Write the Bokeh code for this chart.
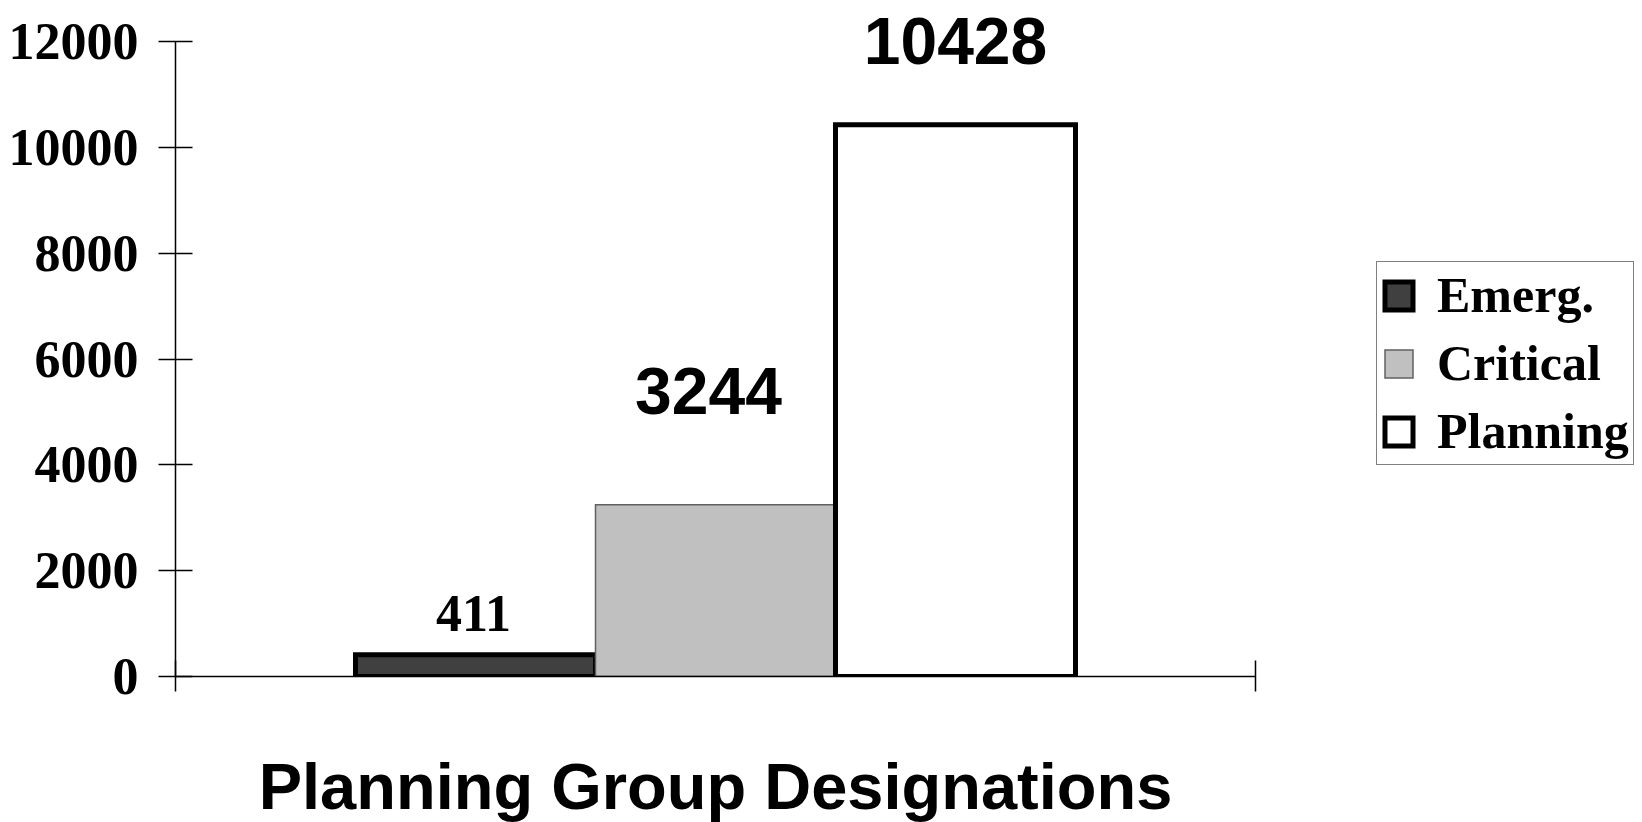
from bokeh.plotting import figure
from bokeh.models import FixedTicker, Range1d, Legend, LegendItem
from bokeh.core.properties import value
from bokeh.embed import file_html
from bokeh.resources import INLINE

# ---- data ----
categories = ["Emerg.", "Critical", "Planning"]
values = [411, 3244, 10428]
value_labels = ["411", "3244", "10428"]
y_ticks = [0, 2000, 4000, 6000, 8000, 10000, 12000]
x_title = "Planning Group Designations"

# ---- styles ----
fills = ["#404040", "#c0c0c0", "#ffffff"]
lines = ["#000000", "#606060", "#000000"]
line_widths = [5, 1.5, 5]
label_fonts = ["Liberation Serif", "Liberation Sans", "Liberation Sans"]
label_sizes = ["52px", "66px", "66px"]
label_dy = [-41, -114, -84]
label_dx = [-2, -7, 0]

# ---- layout (pixels) ----
W, H = 1642, 822
left = 175          # y axis position
top_axis = 41       # pixel of top tick
bottom_axis = 676   # pixel of zero line
right_axis = 1255   # pixel of right end of x axis
x_max = 4.5
y_max = max(y_ticks)
fw = right_axis - left
fh = bottom_axis
y_end = y_max * fh / (bottom_axis - top_axis)

p = figure(
    output_backend="svg", toolbar_location=None,
    frame_width=fw, frame_height=fh,
    min_border_left=left, min_border_right=W - right_axis,
    min_border_top=0, min_border_bottom=H - fh,
    x_range=Range1d(0, x_max), y_range=Range1d(0, y_end),
)
p.outline_line_color = None
p.xgrid.visible = False
p.ygrid.visible = False
p.background_fill_color = "white"
p.border_fill_color = "white"

items = []
for i, (name, v) in enumerate(zip(categories, values)):
    r = p.vbar(x=[1.25 + i], top=[v], bottom=0, width=1.0,
               fill_color=fills[i], line_color=lines[i], line_width=line_widths[i],
               line_join="miter")
    items.append(LegendItem(label=name, renderers=[r]))
    p.text(x=[1.25 + i], y=[v], text=[value_labels[i]],
           text_font=value(label_fonts[i]), text_font_size=value(label_sizes[i]),
           text_font_style="bold", text_align="center", text_baseline="middle",
           x_offset=label_dx[i], y_offset=label_dy[i], text_color="black")

# y axis
ya = p.yaxis[0]
ya.ticker = FixedTicker(ticks=y_ticks)
ya.bounds = (0, y_max)
ya.minor_tick_line_color = None
ya.major_tick_in = 17
ya.major_tick_out = 17
ya.major_tick_line_width = 1.5
ya.axis_line_width = 1.5
ya.major_label_standoff = 20
ya.major_label_text_font = "Liberation Serif"
ya.major_label_text_font_style = "bold"
ya.major_label_text_font_size = "52px"
ya.major_label_text_color = "black"

# x axis: only the two end ticks (as unlabeled minor ticks)
xa = p.xaxis[0]
xa.ticker = FixedTicker(ticks=[], minor_ticks=[0, x_max])
xa.bounds = (0, x_max)
xa.minor_tick_in = 16
xa.minor_tick_out = 15
xa.minor_tick_line_width = 1.5
xa.minor_tick_line_color = "black"
xa.major_tick_in = 16
xa.major_tick_out = 15
xa.axis_line_width = 1.5
xa.major_label_standoff = 0
xa.axis_label = x_title
xa.axis_label_text_font = "Liberation Sans"
xa.axis_label_text_font_style = "bold"
xa.axis_label_text_font_size = "65px"
xa.axis_label_text_color = "black"
xa.axis_label_standoff = 58

legend = Legend(items=items, location=(121, 211))
legend.border_line_color = "black"
legend.border_line_width = 1.5
legend.background_fill_color = "white"
legend.background_fill_alpha = 1
legend.label_text_font = "Liberation Serif"
legend.label_text_font_style = "bold"
legend.label_text_font_size = "50px"
legend.label_text_color = "black"
legend.glyph_width = 35
legend.glyph_height = 35
legend.label_standoff = 21
legend.spacing = 10
legend.padding = 4
legend.margin = 0
p.add_layout(legend, "right")

open("out.html", "w").write(file_html(p, INLINE))
